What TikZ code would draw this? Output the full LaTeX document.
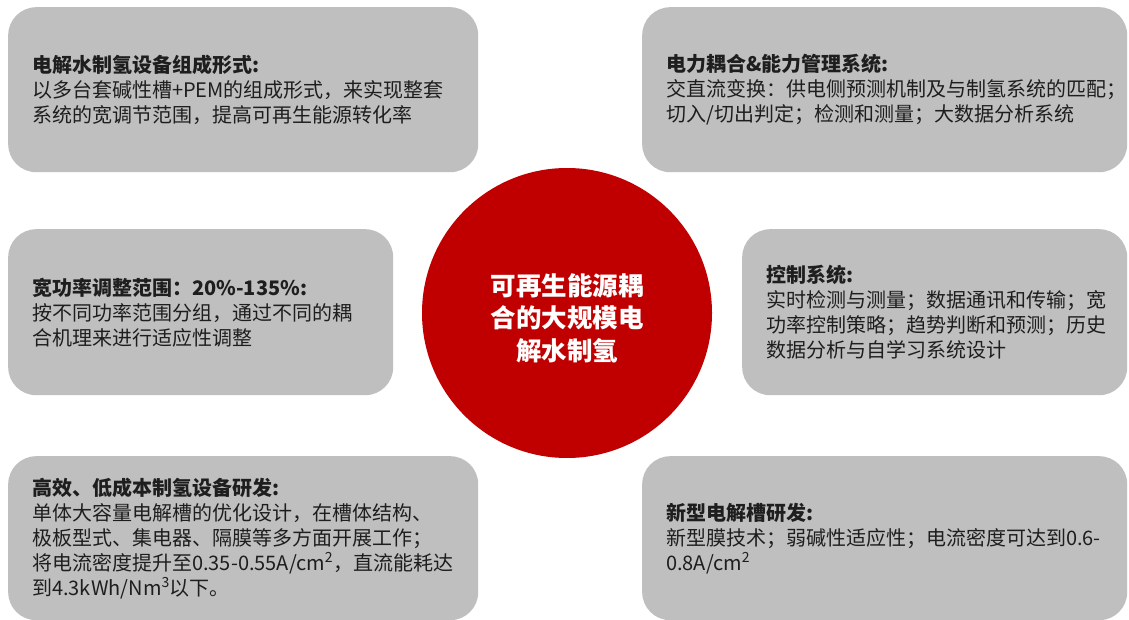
\documentclass[tikz,border=0pt]{standalone}
\usepackage{fontspec}
\setmainfont{Noto Sans CJK SC}
\definecolor{panelgray}{HTML}{BFBFBF}
\definecolor{hubred}{HTML}{C00000}
\definecolor{ink}{HTML}{1E1E1E}
\tikzset{
  panel/.style={fill=panelgray, rounded corners=28pt, inner xsep=24pt, inner ysep=0pt,
    align=left, anchor=north west, text=ink, font=\fontsize{20}{25}\selectfont},
  hub/.style={circle, fill=hubred, minimum size=290pt, inner sep=0pt},
  hubtext/.style={text=white, align=center, font=\bfseries\fontsize{25.5}{32.5}\selectfont}
}
\begin{document}
\begin{tikzpicture}[x=1pt,y=-1pt]
\useasboundingbox[fill=white] (0,0) rectangle (1129,620);
% panels
\node[panel, text width=422pt, minimum height=165pt] (tl) at (8,7)
  {\textbf{电解水制氢设备组成形式:}\\以多台套碱性槽+PEM的组成形式，来实现整套\\系统的宽调节范围，提高可再生能源转化率};
\node[panel, text width=437pt, minimum height=165pt] (tr) at (642,7)
  {\textbf{电力耦合\&能力管理系统:}\\交直流变换：供电侧预测机制及与制氢系统的匹配；\\切入/切出判定；检测和测量；大数据分析系统};
\node[panel, text width=337pt, minimum height=166pt] (ml) at (8,229)
  {\textbf{宽功率调整范围：20\%-135\%:}\\按不同功率范围分组，通过不同的耦\\合机理来进行适应性调整};
\node[panel, text width=337pt, minimum height=166pt] (mr) at (742,229)
  {\textbf{控制系统:}\\实时检测与测量；数据通讯和传输；宽\\功率控制策略；趋势判断和预测；历史\\数据分析与自学习系统设计};
\node[panel, text width=422pt, minimum height=164pt] (bl) at (8,456)
  {\textbf{高效、低成本制氢设备研发:}\\单体大容量电解槽的优化设计，在槽体结构、\\极板型式、集电器、隔膜等多方面开展工作；\\将电流密度提升至0.35-0.55A/cm\textsuperscript{2}，直流能耗达\\到4.3kWh/Nm\textsuperscript{3}以下。};
\node[panel, text width=437pt, minimum height=164pt] (br) at (642,456)
  {\textbf{新型电解槽研发:}\\新型膜技术；弱碱性适应性；电流密度可达到0.6-\\0.8A/cm\textsuperscript{2}};
% hub
\node[hub] (c) at (567,313) {};
\node[hubtext] (ct) at (567,318) {可再生能源耦\\合的大规模电\\解水制氢};
\end{tikzpicture}
\end{document}
